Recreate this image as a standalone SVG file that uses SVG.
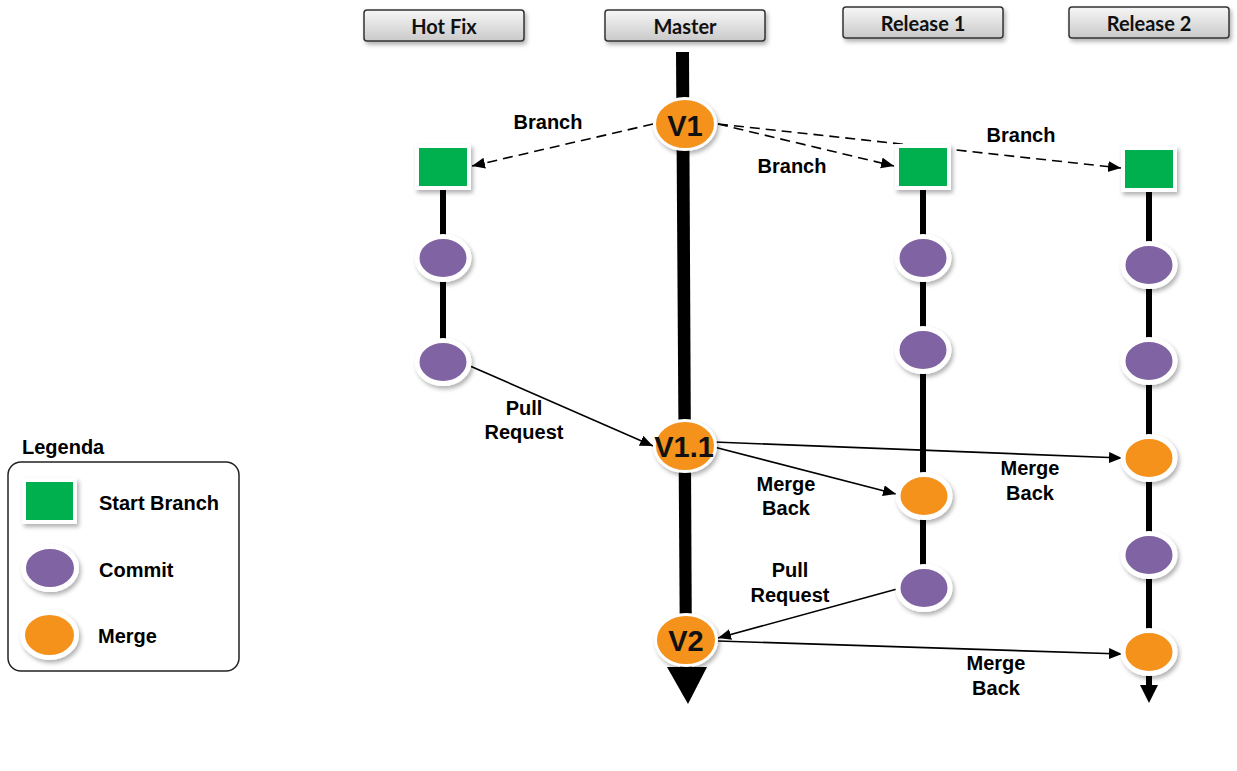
<svg xmlns="http://www.w3.org/2000/svg" width="1237" height="771" viewBox="0 0 1237 771">
<defs>
  <linearGradient id="hdr" x1="0" y1="0" x2="0" y2="1">
    <stop offset="0" stop-color="#f7f7f7"/>
    <stop offset="1" stop-color="#c9c9c9"/>
  </linearGradient>
  <filter id="sh" x="-30%" y="-30%" width="160%" height="160%">
    <feDropShadow dx="2" dy="3" stdDeviation="2" flood-color="#000" flood-opacity="0.3"/>
  </filter>
  <marker id="ah" markerUnits="userSpaceOnUse" markerWidth="14" markerHeight="12" refX="13" refY="5.5" orient="auto">
    <path d="M0,0 L13,5.5 L0,11 z" fill="#000"/>
  </marker>
  <style>
    .hdr{fill:url(#hdr);stroke:#333;stroke-width:1.5;filter:url(#sh)}
    .htxt{font-family:Lato,"Open Sans",sans-serif;font-weight:bold;font-size:20px;fill:#111;text-anchor:middle}
    .lbl{font-family:"Liberation Sans",Arial,sans-serif;font-weight:bold;font-size:20px;fill:#000;text-anchor:middle}
    .ltxt{font-family:"Liberation Sans",Arial,sans-serif;font-weight:bold;font-size:20px;fill:#000}
    .vtxt{font-family:"Liberation Sans",Arial,sans-serif;font-weight:bold;font-size:29px;fill:#111;text-anchor:middle}
    .commit{fill:#8064A2;stroke:#fff;stroke-width:5;filter:url(#sh)}
    .merge{fill:#F5921E;stroke:#fff;stroke-width:5;filter:url(#sh)}
    .ver{fill:#F5921E;stroke:#fff;stroke-width:3;filter:url(#sh)}
    .start{fill:#00B050;stroke:#fff;stroke-width:4;filter:url(#sh)}
    .lane{stroke:#000;stroke-width:6;fill:none}
    .dash{stroke:#000;stroke-width:1.6;fill:none;stroke-dasharray:10 6;marker-end:url(#ah)}
    .solid{stroke:#000;stroke-width:1.6;fill:none;marker-end:url(#ah)}
  </style>
</defs>
<rect width="1237" height="771" fill="#fff"/>

<g id="headers">
  <g id="hdr-hotfix"><rect class="hdr" x="364" y="10" width="160" height="31" rx="3"/><text class="htxt" x="444" y="34">Hot Fix</text></g>
  <g id="hdr-master"><rect class="hdr" x="605" y="10" width="160" height="31" rx="3"/><text class="htxt" x="685" y="34">Master</text></g>
  <g id="hdr-release1"><rect class="hdr" x="843" y="7" width="160" height="31" rx="3"/><text class="htxt" x="923" y="31">Release 1</text></g>
  <g id="hdr-release2"><rect class="hdr" x="1069" y="7" width="160" height="31" rx="3"/><text class="htxt" x="1149" y="31">Release 2</text></g>
</g>

<g id="lanes">
  <polygon id="master-lane" points="676,52 689,52 692,668 680,668" fill="#000"/>
  <polygon points="667,667 707,667 688,704" fill="#000"/>
  <line class="lane" x1="443" y1="188" x2="443" y2="362"/>
  <line class="lane" x1="923" y1="186" x2="923" y2="588"/>
  <line class="lane" x1="1149" y1="188" x2="1149" y2="686"/>
  <polygon points="1140,685 1158,685 1149,703" fill="#000"/>
</g>

<g id="connectors">
  <line class="dash" x1="653" y1="124" x2="472" y2="166"/>
  <line class="dash" x1="718" y1="124" x2="894" y2="166"/>
  <line class="dash" x1="718" y1="124" x2="1121" y2="168"/>
  <line class="solid" x1="470" y1="366" x2="653" y2="446"/>
  <line class="solid" x1="714" y1="442" x2="1122" y2="458"/>
  <line class="solid" x1="714" y1="447" x2="896" y2="494"/>
  <line class="solid" x1="897" y1="589" x2="718" y2="638"/>
  <line class="solid" x1="718" y1="641" x2="1122" y2="654"/>
  <text class="lbl" x="548" y="129">Branch</text>
  <text class="lbl" x="792" y="173">Branch</text>
  <text class="lbl" x="1021" y="142">Branch</text>
  <text class="lbl" x="524" y="415">Pull</text>
  <text class="lbl" x="524" y="439">Request</text>
  <text class="lbl" x="786" y="491">Merge</text>
  <text class="lbl" x="786" y="515">Back</text>
  <text class="lbl" x="1030" y="475">Merge</text>
  <text class="lbl" x="1030" y="500">Back</text>
  <text class="lbl" x="790" y="577">Pull</text>
  <text class="lbl" x="790" y="602">Request</text>
  <text class="lbl" x="996" y="670">Merge</text>
  <text class="lbl" x="996" y="695">Back</text>
</g>

<g id="master-nodes">
  <g id="v1"><ellipse class="ver" cx="685" cy="124" rx="30.5" ry="25.5"/><text class="vtxt" x="685" y="136">V1</text></g>
  <g id="v11"><ellipse class="ver" cx="685" cy="446" rx="30.5" ry="25.5"/><text class="vtxt" x="684" y="457" font-size="28">V1.1</text></g>
  <g id="v2"><ellipse class="ver" cx="686" cy="640" rx="30.5" ry="25.5"/><text class="vtxt" x="686" y="651">V2</text></g>
</g>

<g id="hotfix-nodes">
  <rect id="hf-start" class="start" x="417" y="146" width="52" height="42"/>
  <ellipse id="hf-c1" class="commit" cx="443" cy="258" rx="26" ry="21.5"/>
  <ellipse id="hf-c2" class="commit" cx="443" cy="362" rx="26" ry="21.5"/>
</g>

<g id="release1-nodes">
  <rect id="r1-start" class="start" x="897" y="146" width="52" height="42"/>
  <ellipse id="r1-c1" class="commit" cx="923" cy="258" rx="26" ry="21.5"/>
  <ellipse id="r1-c2" class="commit" cx="923" cy="350" rx="26" ry="21.5"/>
  <ellipse id="r1-m1" class="merge" cx="924" cy="496" rx="26" ry="21.5"/>
  <ellipse id="r1-c3" class="commit" cx="924" cy="588" rx="26" ry="21.5"/>
</g>

<g id="release2-nodes">
  <rect id="r2-start" class="start" x="1123" y="148" width="52" height="42"/>
  <ellipse id="r2-c1" class="commit" cx="1149" cy="265" rx="26" ry="21.5"/>
  <ellipse id="r2-c2" class="commit" cx="1149" cy="361" rx="26" ry="21.5"/>
  <ellipse id="r2-m1" class="merge" cx="1149" cy="458" rx="26" ry="21.5"/>
  <ellipse id="r2-c3" class="commit" cx="1149" cy="555" rx="26" ry="21.5"/>
  <ellipse id="r2-m2" class="merge" cx="1149" cy="652" rx="26" ry="21.5"/>
</g>

<g id="legend">
  <text class="ltxt" x="22" y="454">Legenda</text>
  <rect x="8" y="462" width="231" height="209" rx="13" fill="#fff" stroke="#222" stroke-width="1.5"/>
  <rect class="start" x="24" y="480" width="51" height="42"/>
  <text class="ltxt" x="99" y="510">Start Branch</text>
  <ellipse class="commit" cx="50" cy="568" rx="26.5" ry="21.5"/>
  <text class="ltxt" x="99" y="577">Commit</text>
  <ellipse class="merge" cx="49.5" cy="635" rx="27" ry="22.5"/>
  <text class="ltxt" x="98" y="643">Merge</text>
</g>
</svg>
